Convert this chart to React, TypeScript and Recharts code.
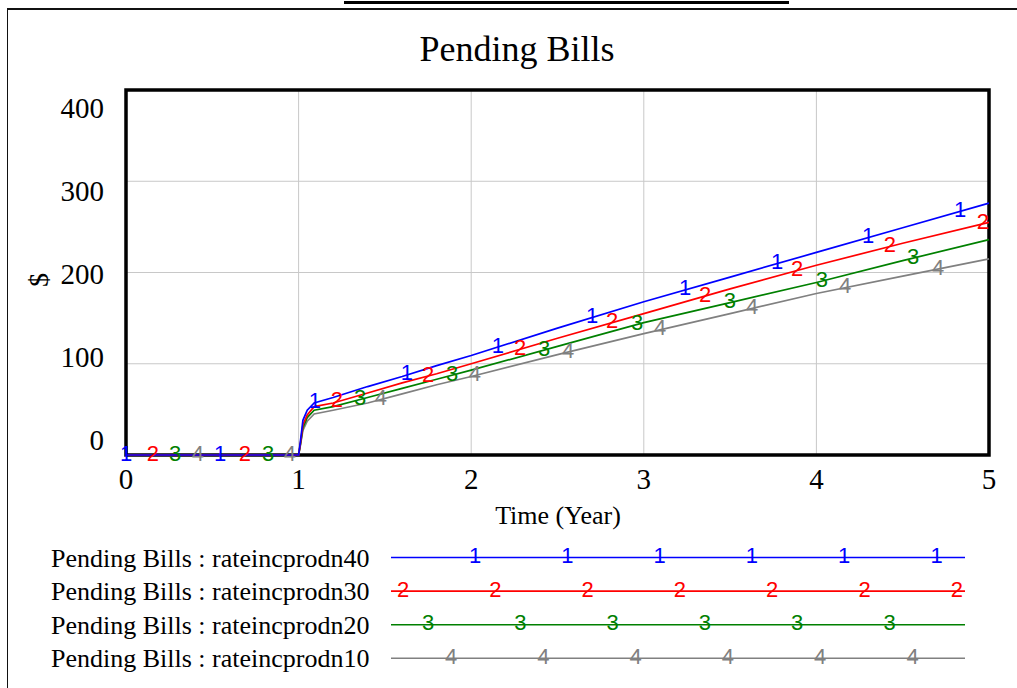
import React from "react";
import {
  ComposedChart,
  Line,
  Scatter,
  XAxis,
  YAxis,
  CartesianGrid,
  ReferenceArea,
} from "recharts";

// time in years, values in $
const times = [0, 1, 1.01, 1.025, 1.05, 1.09, 1.2, 1.4, 1.6, 1.8, 2, 2.5, 3, 3.5, 4, 4.5, 5];
const rate40 = [0, 0, 14, 38, 49, 57, 63, 75, 86, 98, 109, 139, 168, 195, 222, 249, 276];
const rate30 = [0, 0, 12, 33, 44, 53, 57, 68, 79, 89, 100, 128, 155, 182, 208, 232, 255];
const rate20 = [0, 0, 11, 30, 41, 49, 53, 63, 73, 83, 93, 119, 145, 167, 189, 213, 236];
const rate10 = [0, 0, 10, 27, 37, 45, 49, 57, 67, 77, 86, 110, 133, 155, 177, 196, 215];

const xTicks = [0, 1, 2, 3, 4, 5];
const yTicks = [0, 100, 200, 300, 400];

const seriesKeys = ["r40", "r30", "r20", "r10"];
const seriesNames = [
  "Pending Bills : rateincprodn40",
  "Pending Bills : rateincprodn30",
  "Pending Bills : rateincprodn20",
  "Pending Bills : rateincprodn10",
];
const seriesColors = ["#0000ff", "#ff0000", "#008000", "#808080"];
const seriesDigits = ["1", "2", "3", "4"];

// where the number tags sit along each curve (years)
const marks40 = [0, 0.545, 1.095, 1.628, 2.155, 2.7, 3.239, 3.772, 4.299, 4.832];
const marks30 = [0.156, 0.689, 1.222, 1.75, 2.283, 2.816, 3.355, 3.888, 4.426, 4.965];
const marks20 = [0.284, 0.823, 1.356, 1.889, 2.422, 2.961, 3.499, 4.032, 4.56];
const marks10 = [0.417, 0.95, 1.477, 2.022, 2.561, 3.094, 3.627, 4.166, 4.705];

const seriesValues = [rate40, rate30, rate20, rate10];
const seriesMarks = [marks40, marks30, marks20, marks10];

const data = times.map((t, i) => ({
  t,
  r40: rate40[i],
  r30: rate30[i],
  r20: rate20[i],
  r10: rate10[i],
}));

// position a tag on the drawn polyline
function valueAt(vals: number[], t: number) {
  for (let i = 1; i < times.length; i++) {
    if (t <= times[i]) {
      const f = (t - times[i - 1]) / (times[i] - times[i - 1]);
      return vals[i - 1] + f * (vals[i] - vals[i - 1]);
    }
  }
  return vals[vals.length - 1];
}

const markData = seriesMarks.map((ms, s) =>
  ms.map((t) => ({ t, v: valueAt(seriesValues[s], t) }))
);

const SERIF = "'Liberation Serif', 'Times New Roman', serif";
const SANS = "'Liberation Sans', Arial, sans-serif";

const YTick = (props: any) => {
  const { y, payload } = props;
  // Vensim pulls the end labels inward
  const ly = 108 + (y - 90) * 0.91;
  return (
    <text x={104} y={ly} textAnchor="end" dominantBaseline="central" fontSize={29} fontFamily={SERIF} fill="#000">
      {payload.value}
    </text>
  );
};

const XTick = (props: any) => {
  const { x, payload } = props;
  return (
    <text x={x} y={479} textAnchor="middle" dominantBaseline="central" fontSize={29} fontFamily={SERIF} fill="#000">
      {payload.value}
    </text>
  );
};

const makeTag = (digit: string, color: string) => (props: any) => (
  <text
    x={props.cx}
    y={props.cy - 2}
    textAnchor="middle"
    dominantBaseline="central"
    fontSize={22}
    fontFamily={SANS}
    fill={color}
  >
    {digit}
  </text>
);

function LegendBlock() {
  const lineX1 = 391;
  const lineX2 = 965;
  const step = 92.3;
  const offsets = [84, 12, 37, 60];
  return (
    <g>
      {seriesNames.map((name, i) => {
        const y = 557.5 + i * 33.6;
        const xs: number[] = [];
        for (let x = lineX1 + offsets[i]; x <= lineX2; x += step) xs.push(x);
        return (
          <g key={name}>
            <text x={51} y={y + 9} fontSize={26} fontFamily={SERIF} fill="#000">
              {name}
            </text>
            <line x1={lineX1} x2={lineX2} y1={y} y2={y} stroke={seriesColors[i]} strokeWidth={1.6} />
            {xs.map((x) => (
              <text
                key={x}
                x={x}
                y={y - 2}
                textAnchor="middle"
                dominantBaseline="central"
                fontSize={22}
                fontFamily={SANS}
                fill={seriesColors[i]}
              >
                {seriesDigits[i]}
              </text>
            ))}
          </g>
        );
      })}
    </g>
  );
}

export default function App() {
  const order = [3, 2, 1, 0];
  return (
    <div
      style={{
        position: "absolute",
        left: 0,
        top: 0,
        width: 1017,
        height: 688,
        overflow: "hidden",
        background: "#fff",
      }}
    >
      <div style={{ position: "absolute", left: 344, top: 1, width: 445, height: 3, background: "#000" }} />
      <div
        style={{
          position: "absolute",
          left: 7,
          top: 8,
          width: 1200,
          height: 900,
          borderLeft: "1.5px solid #111",
          borderTop: "2px solid #111",
        }}
      />
      <div style={{ position: "absolute", left: 0, top: 0 }}>
        <ComposedChart
          width={1017}
          height={540}
          data={data}
          margin={{ top: 90, right: 28, bottom: 15, left: 20 }}
        >
          <CartesianGrid stroke="#c8c8c8" strokeWidth={1} />
          <XAxis
            dataKey="t"
            type="number"
            domain={[0, 5]}
            ticks={xTicks}
            tick={<XTick />}
            tickLine={false}
            axisLine={false}
            height={70}
          />
          <YAxis
            type="number"
            domain={[0, 400]}
            ticks={yTicks}
            tick={<YTick />}
            tickLine={false}
            axisLine={false}
            width={106}
          />
          <ReferenceArea
            x1={0}
            x2={5}
            y1={0}
            y2={400}
            fill="none"
            fillOpacity={0}
            stroke="#000"
            strokeWidth={3.5}
          />
          {order.map((i) => (
            <Line
              key={seriesKeys[i]}
              dataKey={seriesKeys[i]}
              name={seriesNames[i]}
              type="linear"
              stroke={seriesColors[i]}
              strokeWidth={1.7}
              dot={false}
              isAnimationActive={false}
            />
          ))}
          {order.map((i) => (
            <Scatter
              key={"m" + seriesKeys[i]}
              data={markData[i]}
              dataKey="v"
              shape={makeTag(seriesDigits[i], seriesColors[i])}
              isAnimationActive={false}
            />
          ))}
        </ComposedChart>
      </div>
      <svg
        width={1017}
        height={688}
        style={{ position: "absolute", left: 0, top: 0, pointerEvents: "none" }}
      >
        <text x={517} y={61} textAnchor="middle" fontSize={36} fontFamily={SERIF} fill="#000">
          Pending Bills
        </text>
        <text
          x={38}
          y={280}
          textAnchor="middle"
          dominantBaseline="central"
          fontSize={28}
          fontFamily={SERIF}
          fill="#000"
          transform="rotate(-90 38 280)"
        >
          $
        </text>
        <text x={558} y={524} textAnchor="middle" fontSize={26} fontFamily={SERIF} fill="#000">
          Time (Year)
        </text>
        <LegendBlock />
      </svg>
    </div>
  );
}
